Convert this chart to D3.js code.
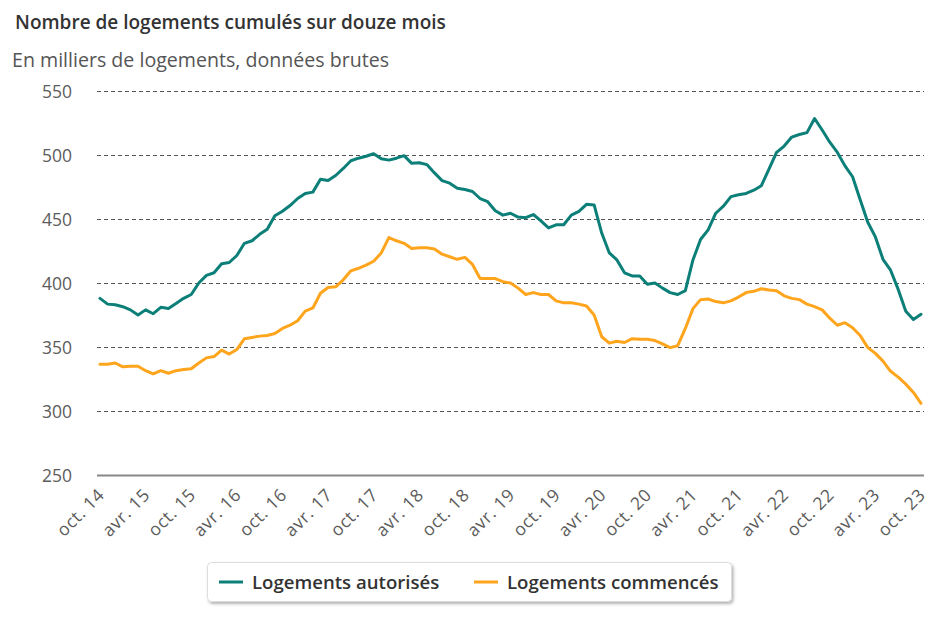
<!DOCTYPE html>
<html>
<head>
<meta charset="utf-8">
<script src="https://cdn.jsdelivr.net/npm/d3@7"></script>
<style>
  html, body { margin: 0; padding: 0; background: #fff; }
  svg { display: block; font-family: "Open Sans", "Noto Sans", sans-serif; }
</style>
</head>
<body>
<svg id="chart" width="940" height="626"></svg>
<script>
// ---- Data ----
const tickLabels = ["oct. 14","avr. 15","oct. 15","avr. 16","oct. 16","avr. 17","oct. 17","avr. 18","oct. 18","avr. 19","oct. 19","avr. 20","oct. 20","avr. 21","oct. 21","avr. 22","oct. 22","avr. 23","oct. 23"];
const yTicks = [250, 300, 350, 400, 450, 500, 550];
const seriesNames = ["Logements autorisés", "Logements commencés"];
const autorises = [388,383.5,383,381.5,379,375,379,376,381,380,384,388,391,400,406,408,415,416,421.5,431,433,438,442,452.5,456,460.5,466,470,471,481,480,484,489.5,495.5,497.5,499,501,497,496,497.5,499.5,493.5,494,492.5,486,480,478,474,473,471.5,466,463.5,456.5,453,454.5,451.5,451,453.5,448.5,443,445.5,445.5,453,456,461.5,461,439,423.5,418,408,405.5,405.5,399,400,396,392.5,391,394,418,434,441.5,454.5,460,467.5,469,470,472.5,476,489,502,507,514,516,517.5,528.5,519.5,510,502,491.5,483,465,447.5,436,418.5,410,395,378,371.5,375.5];
const commences = [336.5,336.5,337.5,334.5,335,335,331.5,329,331.5,329.5,331.5,332.5,333,337.5,341.5,342.5,347.5,344.5,348,356.5,357.5,358.5,359,360.5,364.5,367,370.5,378,380.5,392,396.5,397,402.5,409.5,411.5,414,417,423.5,435.5,433,431,427,427.5,427.5,426.5,422.5,420.5,418.5,420,414.5,403.5,403.5,403.5,401,400,396,391,392.5,391,391,386,384.5,384.5,383.5,382,375,358,353,354.5,353.5,356.5,356,356,355,352.5,349.5,351,364.5,380,387,387.5,385.5,384.5,386,389,392.5,393.5,395.5,394.5,394,390,388,387,383.5,381.5,379,372.5,367,369,365,359,349.5,345,339,331,326.5,321,314.5,306];

// ---- Layout ----
const svg = d3.select("#chart");
const colors = ["#0b7f78", "#ffa51d"];
const gridLeft = 97, gridRight = 924;
const x = d3.scaleLinear().domain([0, autorises.length - 1]).range([100, 921]);
const y = d3.scaleLinear().domain([250, 550]).range([475, 91]);

// Title & subtitle
svg.append("text").attr("x", 15).attr("y", 29)
  .attr("font-size", 19).attr("font-weight", 600).attr("fill", "#333")
  .text("Nombre de logements cumulés sur douze mois");
svg.append("text").attr("x", 12).attr("y", 67)
  .attr("font-size", 19.6).attr("fill", "#555")
  .text("En milliers de logements, données brutes");

// Grid lines
const grid = svg.append("g");
grid.selectAll("line").data(yTicks).join("line")
  .attr("x1", gridLeft).attr("x2", gridRight)
  .attr("y1", d => Math.round(y(d)) + 0.5).attr("y2", d => Math.round(y(d)) + 0.5)
  .attr("stroke", d => d === 250 ? "#888" : "#555")
  .attr("stroke-width", d => d === 250 ? 2 : 1)
  .attr("stroke-dasharray", d => d === 250 ? null : "4,3");

// Y axis labels
const yAxis = d3.axisLeft(y).tickValues(yTicks).tickSize(0).tickPadding(0);
const yg = svg.append("g").attr("transform", "translate(72,0)").call(yAxis);
yg.select(".domain").remove();
yg.selectAll("text").attr("font-size", 17.5).attr("fill", "#5c5c5c")
  .attr("font-family", "'Open Sans', sans-serif").attr("dy", "0.35em");

// X axis labels
const tickIdx = d3.range(0, autorises.length, 6);
const xAxis = d3.axisBottom(x).tickValues(tickIdx).tickSize(0)
  .tickFormat((d, i) => tickLabels[i]);
const xg = svg.append("g").attr("transform", "translate(0,486)").call(xAxis);
xg.select(".domain").remove();
xg.selectAll("text")
  .attr("font-size", 17.5).attr("fill", "#5c5c5c")
  .attr("font-family", "'Open Sans', sans-serif")
  .attr("letter-spacing", "0.6px")
  .attr("text-anchor", "end")
  .attr("dy", 0).attr("y", 0)
  .attr("transform", "translate(5,10) rotate(-45)");

// Lines
const line = d3.line().x((d, i) => x(i)).y(d => y(d)).curve(d3.curveLinear);
[autorises, commences].forEach((s, k) => {
  svg.append("path").datum(s)
    .attr("d", line)
    .attr("fill", "none")
    .attr("stroke", colors[k])
    .attr("stroke-width", 3)
    .attr("stroke-linejoin", "round")
    .attr("stroke-linecap", "round");
});

// Legend
const defs = svg.append("defs");
const f = defs.append("filter").attr("id", "shadow").attr("x", "-10%").attr("y", "-30%").attr("width", "120%").attr("height", "170%");
f.append("feDropShadow").attr("dx", 1.5).attr("dy", 2).attr("stdDeviation", 1.5).attr("flood-color", "#000").attr("flood-opacity", 0.3);
const lg = svg.append("g");
lg.append("rect").attr("x", 207.5).attr("y", 562.5).attr("width", 524).attr("height", 39)
  .attr("rx", 4).attr("fill", "#fff").attr("stroke", "#ddd").attr("filter", "url(#shadow)");
const legendX = [219, 474];
seriesNames.forEach((n, k) => {
  lg.append("line").attr("x1", legendX[k]).attr("x2", legendX[k] + 24)
    .attr("y1", 582).attr("y2", 582)
    .attr("stroke", colors[k]).attr("stroke-width", 3);
  lg.append("text").attr("x", legendX[k] + 33).attr("y", 588.5)
    .attr("font-size", 18.6).attr("font-weight", 600).attr("fill", "#333")
    .text(n);
});
</script>
</body>
</html>
